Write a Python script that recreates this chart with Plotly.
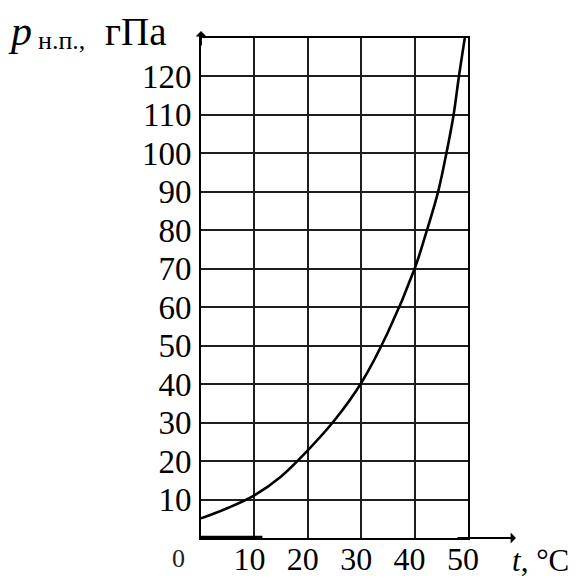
import plotly.graph_objects as go

# ---- data ----
t_curve = [0, 5, 10, 15, 20, 25, 30, 35, 40, 42.2, 44.4, 45.95, 47.3, 48.3, 49.4]
p_curve = [5.1, 7.8, 11.1, 16.0, 22.8, 30.6, 40.3, 53.5, 70, 79.5, 90, 100, 110, 120, 130]

t_ticks = [10, 20, 30, 40, 50]
t_tick_labels = ["10", "20", "30", "40", "50"]
p_ticks = [10, 20, 30, 40, 50, 60, 70, 80, 90, 100, 110, 120]
p_tick_labels = ["10", "20", "30", "40", "50", "60", "70", "80", "90", "100", "110", "120"]

bold_t = [0, 11.5]
bold_p = [0, 0]

x_range = [0, 50]
y_range = [0, 130]

FONT = "Liberation Serif"
GRID = "#1e1e1e"

fig = go.Figure()

fig.add_trace(go.Scatter(
    x=bold_t, y=bold_p, mode="lines",
    line=dict(color="black", width=4.5),
    cliponaxis=False, hoverinfo="skip", showlegend=False,
))

fig.add_trace(go.Scatter(
    x=t_curve, y=p_curve, mode="lines",
    line=dict(color="black", width=2.6, shape="spline", smoothing=1),
    cliponaxis=False, showlegend=False,
))

# page has an 8px body margin, so the figure is 8px smaller than the window
fig.update_layout(
    width=572, height=571,
    margin=dict(l=193, r=112, t=30, b=41, autoexpand=False),
    paper_bgcolor="white", plot_bgcolor="white",
    font=dict(family=FONT, color="black"),
    showlegend=False,
    xaxis=dict(
        range=x_range, tickvals=t_ticks, ticktext=t_tick_labels,
        showgrid=True, gridcolor=GRID, gridwidth=1.8,
        zeroline=False, showline=True, linecolor="black", linewidth=2,
        mirror=True, ticks="", ticklabelstandoff=-8, ticklabelshift=-5,
        automargin=False,
        tickfont=dict(family=FONT, size=32, color="black"),
        fixedrange=True,
    ),
    yaxis=dict(
        range=y_range, tickvals=p_ticks, ticktext=p_tick_labels,
        showgrid=True, gridcolor=GRID, gridwidth=1.8,
        zeroline=False, showline=True, linecolor="black", linewidth=2,
        mirror=True, ticks="", ticklabelstandoff=1, automargin=False,
        tickfont=dict(family=FONT, size=33, color="black"),
        fixedrange=True,
    ),
)

def px_x(px):
    return (px - 201) / 267.0

def px_y(py):
    return (538 - py) / 500.0

annotations = [
    # axis arrows
    dict(xref="paper", yref="paper", x=0, y=px_y(31), ax=0, ay=16,
         showarrow=True, arrowhead=1, arrowsize=1, arrowwidth=1.8, arrowcolor="black", text=""),
    dict(xref="paper", yref="paper", x=px_x(516), y=0, ax=-60, ay=0,
         showarrow=True, arrowhead=1, arrowsize=1, arrowwidth=1.8, arrowcolor="black", text=""),
    # axis title pieces
    dict(xref="paper", yref="paper", x=px_x(6), y=px_y(31), xanchor="left", yanchor="middle",
         text="<i>p</i>", showarrow=False, font=dict(family=FONT, size=42, color="black")),
    dict(xref="paper", yref="paper", x=px_x(36), y=px_y(40), xanchor="left", yanchor="middle",
         text="н.п.,", showarrow=False, font=dict(family=FONT, size=26, color="black")),
    dict(xref="paper", yref="paper", x=px_x(103), y=px_y(32), xanchor="left", yanchor="middle",
         text="гПа", showarrow=False, font=dict(family=FONT, size=39, color="black")),
    # origin label
    dict(xref="paper", yref="paper", x=px_x(178), y=px_y(558), xanchor="center", yanchor="middle",
         text="0", showarrow=False, font=dict(family=FONT, size=26, color="#222")),
    # x axis title
    dict(xref="paper", yref="paper", x=px_x(510), y=px_y(560), xanchor="left", yanchor="middle",
         text="<i>t</i>, °C", showarrow=False, font=dict(family=FONT, size=31, color="black")),
]
fig.update_layout(annotations=annotations)

fig.write_html("out.html")
